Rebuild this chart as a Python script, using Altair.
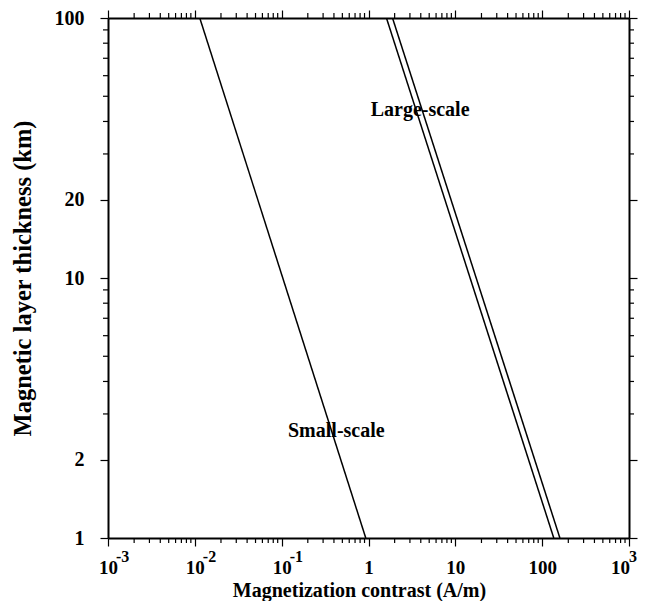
import json
import altair as alt
import pandas as pd

# ---------------- data ----------------
line_names = ["Small-scale", "Large-scale (lower bound)", "Large-scale (upper bound)"]
line_x_at_100km = [0.0114, 1.61, 1.89]   # A/m where the line meets 100 km
line_x_at_1km = [0.93, 136.0, 160.0]     # A/m where the line meets 1 km
thickness_top = 100
thickness_bottom = 1

label_names = ["Small-scale", "Large-scale"]
label_x = [0.426, 3.93]
label_y = [2.59, 44.3]

x_major = [0.001, 0.01, 0.1, 1, 10, 100, 1000]
x_minor = [0.002, 0.003, 0.004, 0.005, 0.006, 0.007, 0.008, 0.009,
           0.02, 0.03, 0.04, 0.05, 0.06, 0.07, 0.08, 0.09,
           0.2, 0.3, 0.4, 0.5, 0.6, 0.7, 0.8, 0.9,
           2, 3, 4, 5, 6, 7, 8, 9,
           20, 30, 40, 50, 60, 70, 80, 90,
           200, 300, 400, 500, 600, 700, 800, 900]
x_plain_labels = [1, 10, 100]
x_power_values = [0.001, 0.01, 0.1]
x_power_exps = ["-3", "-2", "-1"]
x_last_value = [1000]
x_last_exp = ["3"]

y_major = [1, 2, 10, 20, 100]
y_minor = [3, 4, 5, 6, 7, 8, 9, 30, 40, 50, 60, 70, 80, 90]

# ---------------- tables ----------------
rows = []
for n, xt, xb in zip(line_names, line_x_at_100km, line_x_at_1km):
    rows.append({"series": n, "x": xt, "y": thickness_top})
    rows.append({"series": n, "x": xb, "y": thickness_bottom})
lines_df = pd.DataFrame(rows)
labels_df = pd.DataFrame({"text": label_names, "x": label_x, "y": label_y})
pow_df = pd.DataFrame({"v": x_power_values, "e": x_power_exps})
last_df = pd.DataFrame({"v": x_last_value, "e": x_last_exp})
xminor_df = pd.DataFrame({"v": x_minor})
yminor_df = pd.DataFrame({"v": y_minor})

FONT = "Liberation Serif"
W, H = 521, 520
MINOR = 5

xs = alt.Scale(type="log", domain=[0.001, 1000], nice=False)
ys = alt.Scale(type="log", domain=[1, 100], nice=False)

x_label_expr = (
    "indexof(" + json.dumps(x_plain_labels) + ", datum.value) >= 0 ? datum.label : '10'"
)

axis_bottom = alt.Axis(
    orient="bottom", values=x_major, format="~g", labelExpr=x_label_expr,
    tickSize=8, labelPadding=12, labelFontSize=19, labelOverlap=False, labelFlush=False,
    labelOffset={"condition": {"test": "datum.value == 1000", "value": -9}, "value": 0},
    title="Magnetization contrast (A/m)", titleFontSize=20,
    titleX=251, titleY=42, titleBaseline="top", titleAlign="center",
)
axis_left = alt.Axis(
    orient="left", values=y_major, format="~g",
    tickSize=8, labelPadding=16, labelOverlap=False, labelFlush=False,
    title="Magnetic layer thickness (km)", titleFontSize=24.5, titlePadding=19,
)
axis_top = alt.Axis(orient="top", values=x_major, labels=False, tickSize=8, title=None)
axis_right = alt.Axis(orient="right", values=y_major, labels=False, tickSize=8, title=None)

lines = alt.Chart(lines_df).mark_line(color="black", strokeWidth=1.5, clip=True).encode(
    x=alt.X("x:Q", scale=xs, axis=axis_bottom),
    y=alt.Y("y:Q", scale=ys, axis=axis_left),
    detail="series:N",
)

labels = alt.Chart(labels_df).mark_text(
    font=FONT, fontWeight="bold", fontSize=20, color="black", baseline="middle", align="center"
).encode(
    x=alt.X("x:Q", scale=xs, axis=axis_top),
    y=alt.Y("y:Q", scale=ys, axis=axis_right),
    text="text:N",
)

# minor ticks on the four sides (positions from the scales)
rule_kw = dict(color="black", strokeWidth=1.2)
minor_bottom = alt.Chart(xminor_df).mark_rule(**rule_kw).encode(
    x=alt.X("v:Q", scale=xs, axis=None), y=alt.value(H), y2=alt.value(H + MINOR))
minor_top = alt.Chart(xminor_df).mark_rule(**rule_kw).encode(
    x=alt.X("v:Q", scale=xs, axis=None), y=alt.value(0), y2=alt.value(-MINOR))
minor_left = alt.Chart(yminor_df).mark_rule(**rule_kw).encode(
    y=alt.Y("v:Q", scale=ys, axis=None), x=alt.value(0), x2=alt.value(-MINOR))
minor_right = alt.Chart(yminor_df).mark_rule(**rule_kw).encode(
    y=alt.Y("v:Q", scale=ys, axis=None), x=alt.value(W), x2=alt.value(W + MINOR))

pows = alt.Chart(pow_df).mark_text(
    font=FONT, fontWeight="bold", fontSize=16, color="black", baseline="middle", align="left", dx=8
).encode(
    x=alt.X("v:Q", scale=xs, axis=None),
    y=alt.value(539),
    text="e:N",
)

last = alt.Chart(last_df).mark_text(
    font=FONT, fontWeight="bold", fontSize=16, color="black", baseline="middle", align="left", dx=0
).encode(
    x=alt.X("v:Q", scale=xs, axis=None),
    y=alt.value(539),
    text="e:N",
)

chart = (
    alt.layer(lines, labels, minor_bottom, minor_top, minor_left, minor_right, pows, last)
    .resolve_axis(x="independent", y="independent")
    .properties(
        width=W, height=H,
        autosize=alt.AutoSizeParams(type="none"),
        padding={"left": 100, "top": 10, "right": 9, "bottom": 63},
    )
    .configure_view(stroke=None)
    .configure_axis(
        grid=False, domainColor="black", domainWidth=2, tickColor="black", tickWidth=1.2,
        labelColor="black", titleColor="black", labelFont=FONT, titleFont=FONT,
        labelFontWeight="bold", titleFontWeight="bold", labelFontSize=20,
    )
)

chart.save("out.html", embed_options={"renderer": "svg", "actions": False})
